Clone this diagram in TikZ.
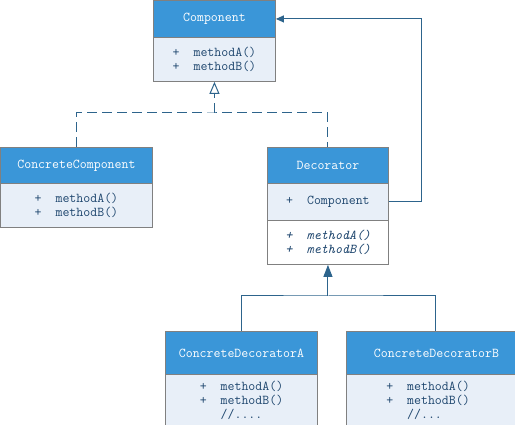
\documentclass[tikz,border=0pt]{standalone}
\usetikzlibrary{arrows.meta}
\definecolor{hdrblue}{RGB}{58,150,216}
\definecolor{bodyfill}{RGB}{232,239,248}
\definecolor{bordergray}{RGB}{128,128,128}
\definecolor{bodytext}{RGB}{30,70,110}
\definecolor{linecol}{RGB}{45,100,140}
\newcommand{\pl}{+\ \ }
\begin{document}
\begin{tikzpicture}[x=1pt,y=-1pt,
  font=\ttfamily\fontsize{13.5}{14}\selectfont,
  box/.style={draw=bordergray, line width=0.9pt, anchor=north west, inner sep=0pt, align=left},
  hdr/.style={box, fill=hdrblue, text=white},
  bodybox/.style={box, fill=bodyfill, text=bodytext},
  plainbox/.style={box, fill=white, text=bodytext},
  txt/.style={text=bodytext, inner sep=0pt, align=left},
  conn/.style={draw=linecol, line width=1pt},
  dashconn/.style={conn, dash pattern=on 10pt off 5pt}
]
\useasboundingbox (0,0) rectangle (515,425);

% Component
\node[hdr, minimum width=122pt, minimum height=37pt] (comph) at (153,0) {Component};
\node[bodybox, minimum width=122pt, minimum height=44pt] (compb) at (153,37) {\pl methodA()\\\pl methodB()};

% ConcreteComponent
\node[hdr, minimum width=152pt, minimum height=36pt] (cch) at (0,147) {ConcreteComponent};
\node[bodybox, minimum width=152pt, minimum height=44pt] (ccb) at (0,183) {\pl methodA()\\\pl methodB()};

% Decorator
\node[hdr, minimum width=121pt, minimum height=36pt] (dech) at (267,147) {Decorator};
\node[bodybox, minimum width=121pt, minimum height=37pt] (deca) at (267,183) {\pl Component};
\node[plainbox, minimum width=121pt, minimum height=44pt] (decm) at (267,220) {\textit{\pl methodA()}\\\textit{\pl methodB()}};

% ConcreteDecoratorA
\node[hdr, minimum width=152pt, minimum height=43pt] (cdah) at (165,331) {ConcreteDecoratorA};
\node[bodybox, minimum width=152pt, minimum height=70pt] (cdab) at (165,374) {};
\node[txt] (cdat) at (241.5,400) {\pl methodA()\\\pl methodB()\\\hphantom{\pl}//....};

% ConcreteDecoratorB
\node[hdr, minimum width=180pt, minimum height=43pt] (cdbh) at (346,331) {ConcreteDecoratorB};
\node[bodybox, minimum width=180pt, minimum height=70pt] (cdbb) at (346,374) {};
\node[txt] (cdbt) at (428,400) {\pl methodA()\\\pl methodB()\\\hphantom{\pl}//...};

% Realization (dashed) to Component
\coordinate (gj) at (compb.south |- 0,113);
\draw[dashconn] (cch.north) |- (gj) -| (dech.north);
\draw[dashconn, -{Triangle[open, fill=white, width=10pt, length=12pt]}] (gj) -- (compb.south);

% Link Decorator -> Component
\coordinate (rc) at (421,0);
\draw[conn, -{Triangle[width=7pt, length=8pt]}] (deca.east) -| (rc |- comph.east) -- (comph.east);

% Inheritance from concrete decorators
\coordinate (dj) at (decm.south |- 0,296);
\draw[conn] (cdah.north) |- (dj) -| ([xshift=-1pt]cdbh.north);
\draw[conn, -{Triangle[width=9pt, length=12pt]}] (dj) -- (decm.south);
\end{tikzpicture}
\end{document}
